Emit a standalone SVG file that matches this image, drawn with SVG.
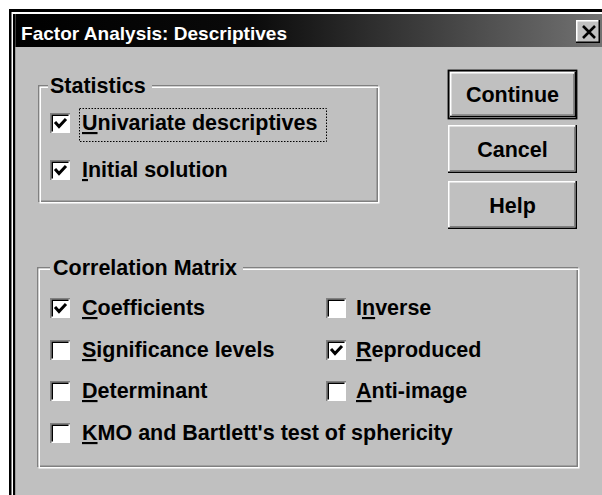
<svg xmlns="http://www.w3.org/2000/svg" width="602" height="495" viewBox="0 0 602 495">
  <style>
    .lbl { font-family: "Liberation Sans", Arial, sans-serif; font-weight: bold; font-size: 21.5px; fill: #000; }
    .ttl { font-family: "Liberation Sans", Arial, sans-serif; font-weight: bold; font-size: 19px; fill: #fff; }
    .btn { font-family: "Liberation Sans", Arial, sans-serif; font-weight: bold; font-size: 21.5px; fill: #000; text-anchor: middle; }
    .ul { text-decoration: underline; }
    .etchD { fill: none; stroke: #808080; stroke-width: 1.5; }
    .etchL { fill: none; stroke: #ffffff; stroke-width: 1.5; }
  </style>
  <defs>
    <linearGradient id="titleGrad" gradientUnits="userSpaceOnUse" x1="16" y1="0" x2="602" y2="0">
      <stop offset="0" stop-color="#000000"/>
      <stop offset="0.4" stop-color="#0a0a0a"/>
      <stop offset="1" stop-color="#727272"/>
    </linearGradient>
    <!-- sunken 3D check box, 20x20 -->
    <g id="box">
      <rect x="0" y="0" width="20" height="20" fill="#ffffff"/>
      <path d="M0.75,20 V0.75 H20" fill="none" stroke="#808080" stroke-width="1.5"/>
      <path d="M2.25,18.5 V2.25 H18.5" fill="none" stroke="#000000" stroke-width="1.5"/>
    </g>
    <path id="tick" d="M5,9 L9,13.5 L16,6" fill="none" stroke="#000" stroke-width="3"/>
    <!-- raised push button face, 129x48 -->
    <g id="face">
      <rect x="0" y="0" width="129" height="48" fill="#c0c0c0"/>
      <path d="M0.75,47 V0.75 H128" fill="none" stroke="#ffffff" stroke-width="1.5"/>
      <path d="M0,47.25 H128.25 V0" fill="none" stroke="#000000" stroke-width="1.5"/>
      <path d="M2,45.75 H126.75 V2" fill="none" stroke="#808080" stroke-width="1.5"/>
    </g>
  </defs>

  <!-- page and window frame -->
  <rect x="0" y="0" width="602" height="495" fill="#ffffff"/>
  <rect x="9" y="9" width="593" height="3" fill="#000"/>
  <rect x="9" y="9" width="2.5" height="486" fill="#000"/>
  <rect x="13" y="14" width="2.5" height="481" fill="#000"/>
  <rect x="15.5" y="47" width="586.5" height="448" fill="#c0c0c0"/>

  <!-- caption bar -->
  <g id="titlebar">
    <rect x="15.5" y="14" width="586.5" height="33" fill="url(#titleGrad)"/>
    <text class="ttl" x="21" y="40" textLength="266" lengthAdjust="spacingAndGlyphs">Factor Analysis: Descriptives</text>
    <g id="close">
      <rect x="576" y="20" width="24" height="23" fill="#c0c0c0"/>
      <path d="M576.75,42.5 V20.75 H600" fill="none" stroke="#fff" stroke-width="1.5"/>
      <path d="M576,42.25 H599.25 V20" fill="none" stroke="#000" stroke-width="1.5"/>
      <path d="M583,26 L595,38 M595,26 L583,38" stroke="#000" stroke-width="2.6"/>
    </g>
  </g>

  <!-- Statistics group -->
  <g id="statistics">
    <path class="etchD" d="M48,85.75 H38.75 V201.25 H377.25 V85.75 H152"/>
    <path class="etchL" d="M48,87.25 H40.25 V202.75 H378.75 V87.25 H152"/>
    <text class="lbl" x="50" y="93">Statistics</text>
  </g>
  <g id="univariate">
    <use href="#box" x="50" y="113"/>
    <use href="#tick" x="50" y="113"/>
    <text class="lbl" x="82" y="130"><tspan class="ul">U</tspan>nivariate descriptives</text>
    <rect x="79.5" y="108.5" width="247" height="33" fill="none" stroke="#000" stroke-width="1" stroke-dasharray="1.5 1.5"/>
  </g>
  <g id="initial">
    <use href="#box" x="50" y="160"/>
    <use href="#tick" x="50" y="160"/>
    <text class="lbl" x="82" y="177"><tspan class="ul">I</tspan>nitial solution</text>
  </g>

  <!-- push buttons -->
  <g id="continue">
    <rect x="448.5" y="70.5" width="128" height="48" fill="none" stroke="#000" stroke-width="1.8"/>
    <use href="#face" x="450" y="72" transform="translate(450 72) scale(0.977 0.94) translate(-450 -72)"/>
    <text class="btn" x="512.5" y="102">Continue</text>
  </g>
  <g id="cancel">
    <use href="#face" x="448" y="125"/>
    <text class="btn" x="512.5" y="157">Cancel</text>
  </g>
  <g id="help">
    <use href="#face" x="448" y="181"/>
    <text class="btn" x="512.5" y="213">Help</text>
  </g>

  <!-- Correlation Matrix group -->
  <g id="correlation">
    <path class="etchD" d="M50,267.75 H37.75 V466.25 H577.25 V267.75 H243"/>
    <path class="etchL" d="M50,269.25 H39.25 V467.75 H578.75 V269.25 H243"/>
    <text class="lbl" x="53" y="275">Correlation Matrix</text>
  </g>
  <g id="coefficients">
    <use href="#box" x="50" y="298"/>
    <use href="#tick" x="50" y="298"/>
    <text class="lbl" x="82" y="315"><tspan class="ul">C</tspan>oefficients</text>
  </g>
  <g id="significance">
    <use href="#box" x="50" y="340"/>
    <text class="lbl" x="82" y="357"><tspan class="ul">S</tspan>ignificance levels</text>
  </g>
  <g id="determinant">
    <use href="#box" x="50" y="381"/>
    <text class="lbl" x="82" y="398"><tspan class="ul">D</tspan>eterminant</text>
  </g>
  <g id="kmo">
    <use href="#box" x="50" y="423"/>
    <text class="lbl" x="82" y="440"><tspan class="ul">K</tspan>MO and Bartlett's test of sphericity</text>
  </g>
  <g id="inverse">
    <use href="#box" x="326" y="298"/>
    <text class="lbl" x="356" y="315">I<tspan class="ul">n</tspan>verse</text>
  </g>
  <g id="reproduced">
    <use href="#box" x="326" y="340"/>
    <use href="#tick" x="326" y="340"/>
    <text class="lbl" x="356" y="357"><tspan class="ul">R</tspan>eproduced</text>
  </g>
  <g id="antiimage">
    <use href="#box" x="326" y="381"/>
    <text class="lbl" x="356" y="398"><tspan class="ul">A</tspan>nti-image</text>
  </g>
</svg>
